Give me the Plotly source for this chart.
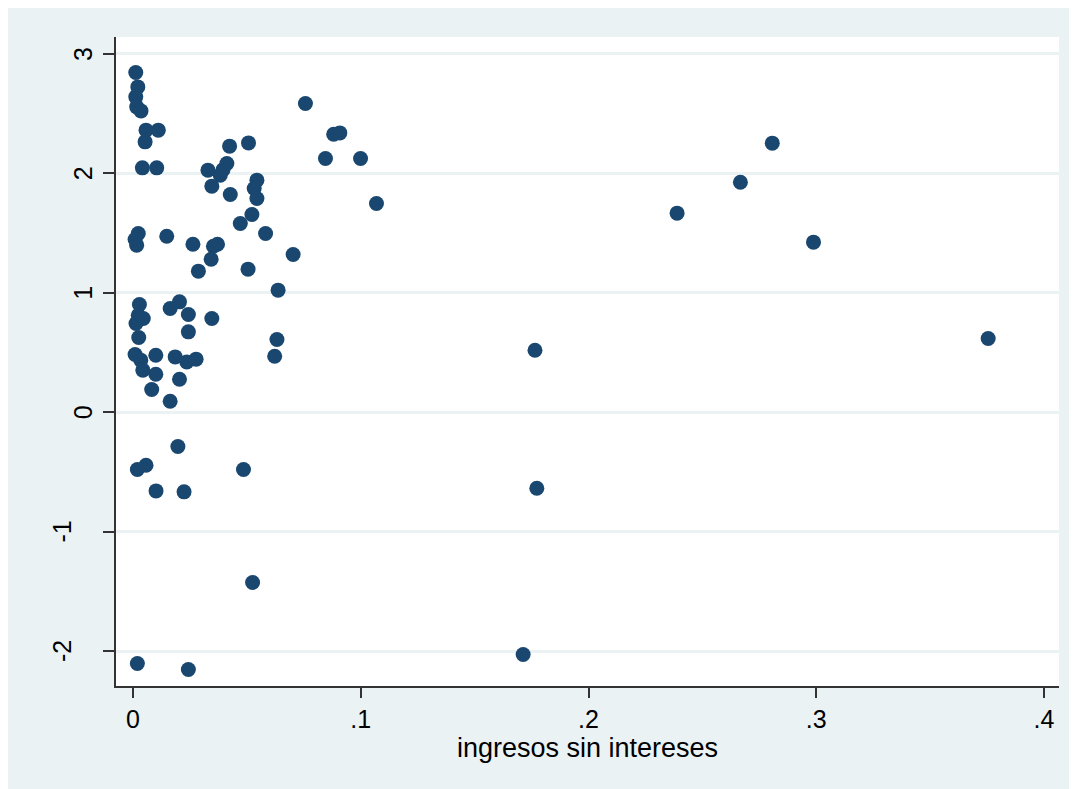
import plotly.graph_objects as go

# Data
ingresos = [
    0.0012, 0.0021, 0.0012, 0.0016, 0.0035, 0.0057, 0.0111, 0.0053, 0.0041, 0.0104,
    0.0329, 0.0383, 0.0412, 0.0395, 0.0424, 0.0507, 0.0346, 0.0427, 0.0544, 0.0532,
    0.0544, 0.0471, 0.0522, 0.0582, 0.0757, 0.0881, 0.0908, 0.0845, 0.0999, 0.1069,
    0.0023, 0.0009, 0.0016, 0.0148, 0.0263, 0.0353, 0.0371, 0.0343, 0.0287, 0.0505,
    0.0703, 0.0637, 0.0028, 0.0204, 0.0163, 0.0243, 0.0346, 0.0023, 0.0045, 0.0013,
    0.0025, 0.0243, 0.0632, 0.0622, 0.0009, 0.0034, 0.0043, 0.0100, 0.0185, 0.0236,
    0.0277, 0.0100, 0.0204, 0.0082, 0.0163, 0.0197, 0.0019, 0.0057, 0.0101, 0.0224,
    0.0485, 0.0525, 0.0019, 0.0243, 0.1765, 0.1773, 0.1713, 0.2389, 0.2667, 0.2807,
    0.2988, 0.3755,
]
valores = [
    2.845, 2.724, 2.641, 2.557, 2.523, 2.362, 2.362, 2.264, 2.046, 2.046,
    2.027, 1.985, 2.083, 2.030, 2.228, 2.255, 1.893, 1.823, 1.943, 1.873,
    1.790, 1.580, 1.656, 1.497, 2.585, 2.328, 2.339, 2.125, 2.125, 1.748,
    1.497, 1.446, 1.399, 1.474, 1.407, 1.390, 1.407, 1.281, 1.181, 1.198,
    1.321, 1.022, 0.902, 0.924, 0.868, 0.818, 0.785, 0.812, 0.785, 0.743,
    0.626, 0.673, 0.609, 0.469, 0.483, 0.436, 0.352, 0.477, 0.463, 0.421,
    0.444, 0.318, 0.276, 0.190, 0.092, -0.287, -0.480, -0.444, -0.659, -0.667,
    -0.480, -1.426, -2.105, -2.155, 0.519, -0.637, -2.029, 1.667, 1.926, 2.253,
    1.424, 0.617,
]

x_tickvals = [0, 0.1, 0.2, 0.3, 0.4]
x_ticktext = ["0", ".1", ".2", ".3", ".4"]
y_tickvals = [-2, -1, 0, 1, 2, 3]
y_ticktext = ["-2", "-1", "0", "1", "2", "3"]
x_title = "ingresos sin intereses"

BG = "#EAF2F3"
NAVY = "#1A476F"
AX = "#333333"
FONT = "Liberation Sans, Arial, sans-serif"
TICKSIZE = 25

fig = go.Figure()
fig.add_trace(go.Scatter(
    x=ingresos, y=valores, mode="markers",
    marker=dict(color=NAVY, size=15, line=dict(width=0)),
    showlegend=False, hoverinfo="x+y",
))

# rotated y tick labels (Stata style), placed at the axis tick values
annotations = []
for val, txt in zip(y_tickvals, y_ticktext):
    annotations.append(dict(
        xref="paper", yref="y", x=0, y=val,
        xanchor="right", yanchor="middle",
        xshift=-17 - 21 * (len(txt) - 1),
        text=txt, textangle=-90, showarrow=False,
        font=dict(size=TICKSIZE, family=FONT, color="black"),
    ))

fig.update_layout(
    width=1085, height=797,
    margin=dict(l=108, r=34, t=29, b=119, pad=0),
    paper_bgcolor=BG,
    plot_bgcolor="white",
    font=dict(family=FONT, color="black", size=TICKSIZE),
    annotations=annotations,
    xaxis=dict(
        range=[-0.00748, 0.4066], tickvals=x_tickvals, ticktext=x_ticktext,
        ticks="outside", ticklen=10, tickwidth=1.5, tickcolor=AX,
        showline=True, linecolor=AX, linewidth=1.5,
        showgrid=False, zeroline=False,
        tickfont=dict(size=TICKSIZE, family=FONT, color="black"),
        title=dict(text=x_title, font=dict(size=27, family=FONT, color="black"), standoff=4),
    ),
    yaxis=dict(
        range=[-2.293, 3.142], tickvals=y_tickvals,
        showticklabels=False,
        ticks="outside", ticklen=11, tickwidth=1.5, tickcolor=AX,
        showline=True, linecolor=AX, linewidth=1.5,
        showgrid=True, gridcolor=BG, gridwidth=2.5, zeroline=False,
    ),
)

fig.write_html("out.html")
